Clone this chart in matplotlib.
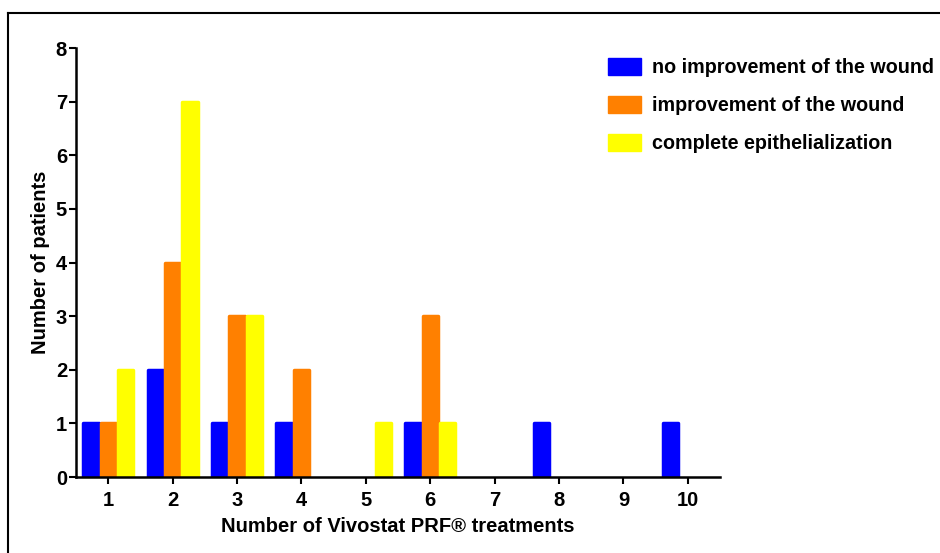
import matplotlib
matplotlib.use("Agg")
import matplotlib.pyplot as plt
import numpy as np
from matplotlib.lines import Line2D
from matplotlib.patches import Patch

plt.rcParams["font.family"] = ["Liberation Sans", "DejaVu Sans"]
plt.rcParams["font.weight"] = "bold"

treatments = [1, 2, 3, 4, 5, 6, 7, 8, 9, 10]
no_improvement = [1, 2, 1, 1, 0, 1, 0, 1, 0, 1]
improvement = [1, 4, 3, 2, 0, 3, 0, 0, 0, 0]
epithelialization = [2, 7, 3, 0, 1, 1, 0, 0, 0, 0]
labels = ["no improvement of the wound", "improvement of the wound", "complete epithelialization"]
colors = ["#0000FF", "#FF8000", "#FFFF00"]

fig = plt.figure(figsize=(9.4, 5.53), dpi=100)
ax = fig.add_axes([0.0809, 0.1374, 0.766 - 0.0809, 0.913 - 0.1374])

x = np.array(treatments)
w = 0.27
for i, (vals, c) in enumerate(zip([no_improvement, improvement, epithelialization], colors)):
    vals = np.array(vals)
    keep = vals > 0
    ax.bar(x[keep] + (i - 1) * w, vals[keep], width=w - 0.03, color=c, edgecolor=c,
           linewidth=2.5, joinstyle="round", zorder=2)

ax.set_xlim(0.5, 10.5)
ax.set_ylim(0, 8)
ax.set_xticks(treatments)
ax.set_yticks(range(0, 9))
for s in ["top", "right"]:
    ax.spines[s].set_visible(False)
for s in ["left", "bottom"]:
    ax.spines[s].set_linewidth(1.8)
ax.tick_params(axis="both", width=1.5, length=5, labelsize=14.5)
ax.tick_params(axis="y", pad=1.5)
ax.tick_params(axis="x", pad=5)
ax.set_xlabel("Number of Vivostat PRF\u00ae treatments", fontsize=14.5, fontweight="bold", labelpad=5)
ax.set_ylabel("Number of patients", fontsize=14.5, fontweight="bold", labelpad=4)

handles = [Patch(facecolor=c, edgecolor=c, linewidth=1, joinstyle="round") for c in colors]
fig.legend(handles, labels, loc="upper left", bbox_to_anchor=(0.6386, 0.909), frameon=False,
           fontsize=14.2, handlelength=1.65, handleheight=0.9, handletextpad=0.55,
           labelspacing=0.97, borderaxespad=0)

fig.add_artist(Line2D([8 / 940, 1], [1 - 13 / 553] * 2, color="black", lw=1.5))
fig.add_artist(Line2D([8 / 940] * 2, [0, 1 - 13 / 553], color="black", lw=1.5))

fig.savefig("out.png", dpi=100)
